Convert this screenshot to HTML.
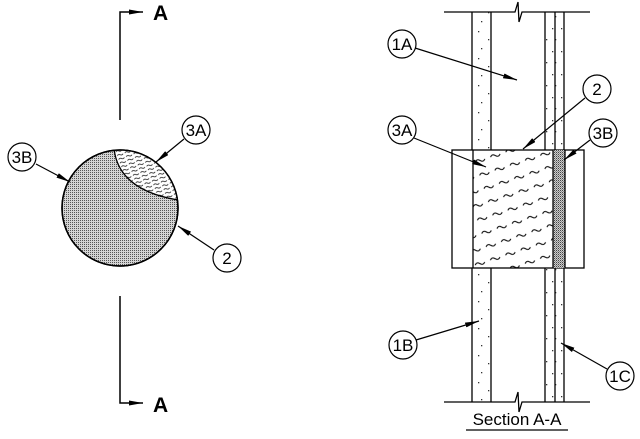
<!DOCTYPE html>
<html><head><meta charset="utf-8"><style>
html,body{margin:0;padding:0;background:#fff;}
svg{display:block;}
text{font-family:"Liberation Sans",Arial,sans-serif;fill:#000;}
</style></head><body>
<svg width="640" height="439" viewBox="0 0 640 439" xmlns="http://www.w3.org/2000/svg">
<defs>
<pattern id="stip" width="2" height="2" patternUnits="userSpaceOnUse">
<rect width="2" height="2" fill="#d4d4d4"/>
<rect x="0" y="0" width="1" height="1" fill="#555"/>
</pattern>
<pattern id="stipd" width="2" height="2" patternUnits="userSpaceOnUse">
<rect width="2" height="2" fill="#ccc"/>
<rect x="0" y="0" width="1" height="1" fill="#444"/>
<rect x="1" y="1" width="1" height="1" fill="#888"/>
</pattern>
<pattern id="hatch" width="8" height="4" patternUnits="userSpaceOnUse" patternTransform="rotate(-20)">
<path d="M1 2.5 q1.5 -1.5 3 0 t3 0" fill="none" stroke="#000" stroke-width="0.8"/>
</pattern>
<pattern id="wave" width="16" height="14" patternUnits="userSpaceOnUse" patternTransform="rotate(-18)">
<path d="M2 7 q2.5 -3 5 0 t5 0" fill="none" stroke="#000" stroke-width="1"/>
</pattern>
<pattern id="sand" width="19" height="27" patternUnits="userSpaceOnUse">
<rect x="3" y="4" width="1.3" height="1.3" fill="#333"/>
<rect x="13" y="12" width="1.3" height="1.3" fill="#333"/>
<rect x="6" y="21" width="1.3" height="1.3" fill="#333"/>
</pattern>
<pattern id="sand2" width="9" height="23" patternUnits="userSpaceOnUse">
<rect x="3" y="5" width="1.3" height="1.3" fill="#333"/>
<rect x="6" y="16" width="1.3" height="1.3" fill="#333"/>
</pattern>
<marker id="ar" viewBox="0 0 14 5" refX="14" refY="2.5" markerWidth="14" markerHeight="5" markerUnits="userSpaceOnUse" orient="auto">
<path d="M0 0 L14 2.5 L0 5 Z" fill="#000"/>
</marker>
<clipPath id="cc"><circle cx="120" cy="208" r="58"/></clipPath>
</defs>

<g stroke="#000" stroke-width="1.5" fill="none">
<path d="M120 120 V12 H143" marker-end="url(#ar)"/>
<path d="M120 296 V403 H143" marker-end="url(#ar)"/>
</g>
<text x="153" y="20" font-size="21" font-weight="bold">A</text>
<text x="153" y="412" font-size="21" font-weight="bold">A</text>

<circle cx="120" cy="208" r="58" fill="url(#stip)" stroke="#000" stroke-width="1.5"/>
<g clip-path="url(#cc)">
<path d="M114 148 Q118 190 178 200 L190 140 Z" fill="#fff"/>
<path d="M114 148 Q118 190 178 200 L190 140 Z" fill="url(#hatch)"/>
<path d="M114 148 Q118 190 178 200" fill="none" stroke="#000" stroke-width="1.3"/>
</g>
<circle cx="120" cy="208" r="58" fill="none" stroke="#000" stroke-width="1.5"/>

<g stroke="#000" stroke-width="1.2" fill="none">
<line x1="36" y1="164" x2="70" y2="182" marker-end="url(#ar)"/>
<line x1="184" y1="139" x2="156" y2="162" marker-end="url(#ar)"/>
<line x1="214" y1="250" x2="178" y2="226" marker-end="url(#ar)"/>
<circle cx="22" cy="157" r="14" fill="#fff"/>
<circle cx="196" cy="130" r="14" fill="#fff"/>
<circle cx="227" cy="258" r="14" fill="#fff"/>
</g>
<text x="22" y="163" font-size="17" text-anchor="middle">3B</text>
<text x="196" y="136" font-size="17" text-anchor="middle">3A</text>
<text x="227" y="264" font-size="17" text-anchor="middle">2</text>

<rect x="472" y="12" width="19" height="390" fill="url(#sand)"/>
<rect x="555" y="12" width="9" height="390" fill="url(#sand2)"/>
<rect x="545" y="24" width="10" height="378" fill="url(#sand2)"/>
<g stroke="#000" stroke-width="1.3" fill="none">
<path d="M444 12 H515 L518 2 L519 22 L522 12 H590"/>
<path d="M444 402 H515 L518 392 L519 412 L522 402 H590"/>
<line x1="472" y1="12" x2="472" y2="402"/>
<line x1="491" y1="12" x2="491" y2="402"/>
<line x1="545" y1="12" x2="545" y2="402"/>
<line x1="555" y1="12" x2="555" y2="402"/>
<line x1="564" y1="12" x2="564" y2="402"/>
</g>
<rect x="452" y="150" width="132" height="118" fill="#fff" stroke="#000" stroke-width="1.3"/>
<rect x="473" y="150" width="80" height="118" fill="url(#wave)"/>
<rect x="553" y="150" width="12" height="118" fill="url(#stipd)"/>
<g stroke="#000" stroke-width="1.3">
<line x1="473" y1="150" x2="473" y2="268"/>
<line x1="553" y1="150" x2="553" y2="268"/>
<line x1="565" y1="150" x2="565" y2="268"/>
</g>

<g stroke="#000" stroke-width="1.2" fill="none">
<line x1="415" y1="48" x2="517" y2="80" marker-end="url(#ar)"/>
<line x1="585" y1="98" x2="523" y2="149" marker-end="url(#ar)"/>
<line x1="414" y1="138" x2="486" y2="167" marker-end="url(#ar)"/>
<line x1="590" y1="140" x2="564" y2="160" marker-end="url(#ar)"/>
<line x1="416" y1="340" x2="479" y2="321" marker-end="url(#ar)"/>
<line x1="607" y1="369" x2="561" y2="343" marker-end="url(#ar)"/>
<circle cx="402" cy="44" r="14" fill="#fff"/>
<circle cx="597" cy="89" r="14" fill="#fff"/>
<circle cx="402" cy="130" r="14" fill="#fff"/>
<circle cx="603" cy="133" r="14" fill="#fff"/>
<circle cx="403" cy="345" r="14" fill="#fff"/>
<circle cx="620" cy="376" r="14" fill="#fff"/>
</g>
<text x="402" y="50" font-size="17" text-anchor="middle">1A</text>
<text x="597" y="95" font-size="17" text-anchor="middle">2</text>
<text x="402" y="136" font-size="17" text-anchor="middle">3A</text>
<text x="603" y="139" font-size="17" text-anchor="middle">3B</text>
<text x="403" y="351" font-size="17" text-anchor="middle">1B</text>
<text x="620" y="382" font-size="17" text-anchor="middle">1C</text>

<text x="517" y="425" font-size="17" text-anchor="middle">Section A-A</text>
<line x1="466" y1="430" x2="568" y2="430" stroke="#000" stroke-width="1.2"/>
</svg>
</body></html>
